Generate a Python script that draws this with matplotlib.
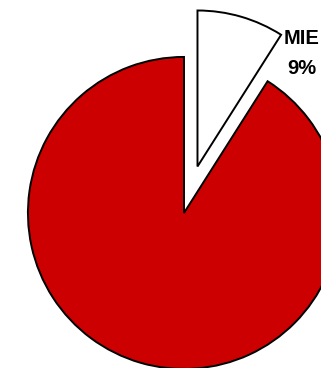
import matplotlib.pyplot as plt

labels = ["MIE", "Other"]
shares = [9, 91]
colors = ["white", "#CC0000"]
explode = [0.31, 0]

fig = plt.figure(figsize=(3.21, 3.68), dpi=100)
ax = fig.add_axes([0, 0, 1, 1])

ax.pie(
    shares,
    colors=colors,
    explode=explode,
    startangle=90,
    counterclock=False,
    wedgeprops=dict(edgecolor="black", linewidth=1.4),
)

ax.text(
    0.755,
    1.02,
    f"{labels[0]}\n{shares[0]}%",
    ha="center",
    va="center",
    fontsize=14.5,
    fontweight="bold",
    family="Liberation Sans",
    linespacing=1.75,
)

ax.set_aspect("auto")
ax.set_xlim(-1.179, 0.878)
ax.set_ylim(-0.994, 1.365)
ax.axis("off")

fig.savefig("out.png", dpi=100)
